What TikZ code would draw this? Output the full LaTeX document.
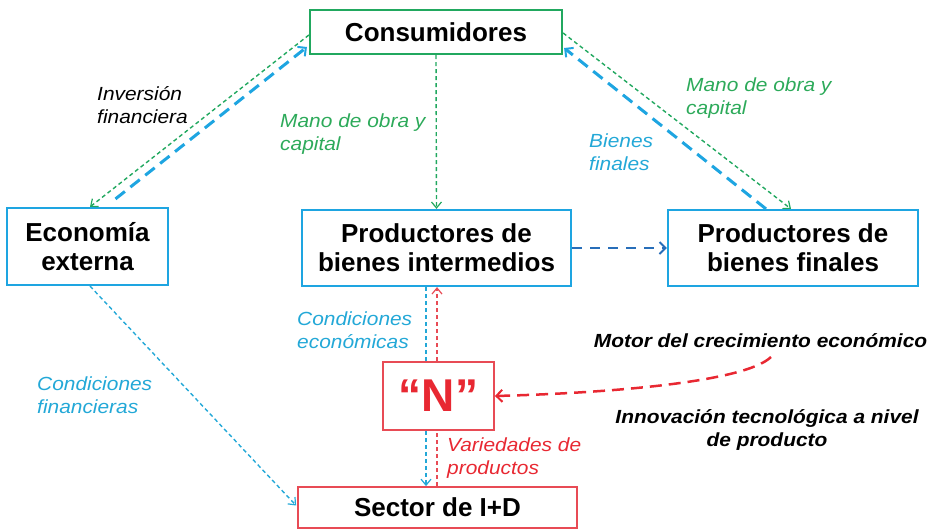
\documentclass[tikz,border=0pt]{standalone}
\usepackage{fontspec}
\setmainfont{Liberation Sans}
\newfontfamily\labfont[FakeStretch=1.1]{Liberation Sans}
\usetikzlibrary{arrows.meta,calc}
\definecolor{cgreen}{RGB}{33,168,95}
\definecolor{cblue}{RGB}{30,165,225}
\definecolor{dblue}{RGB}{40,110,185}
\definecolor{cred}{RGB}{232,40,50}
\definecolor{bred}{RGB}{232,75,85}
\definecolor{tgreen}{RGB}{45,170,90}
\definecolor{tblue}{RGB}{35,168,215}
\tikzset{
  box/.style={draw, line width=2.2pt, fill=white, inner sep=0pt, align=center,
    font=\fontsize{26}{29}\selectfont\bfseries},
  lab/.style={inner sep=0pt, anchor=west, align=left,
    font=\labfont\fontsize{19}{23}\selectfont\itshape},
  thinarrow/.style={line width=1.4pt, dash pattern=on 4pt off 3pt,
    -{Straight Barb[length=6pt,width=10pt,line width=1.2pt]}},
  thinline/.style={line width=1.4pt, dash pattern=on 4pt off 3pt},
  thickarrow/.style={line width=3pt, dash pattern=on 12pt off 7pt,
    -{Straight Barb[length=6pt,width=12pt,line width=2pt]}},
}
\begin{document}
\begin{tikzpicture}[x=1pt,y=-1pt]
\useasboundingbox (0,0) rectangle (936,530);
% nodes
\node[box, draw=cgreen, minimum width=252pt, minimum height=44pt] (cons) at (436,32) {Consumidores};
\node[box, draw=cblue, minimum width=161pt, minimum height=77pt] (eco) at (87.5,246.5) {Economía\\externa};
\node[box, draw=cblue, minimum width=269pt, minimum height=76pt] (inter) at (436.5,248) {Productores de\\bienes intermedios};
\node[box, draw=cblue, minimum width=250pt, minimum height=76pt] (fin) at (793,248) {Productores de\\bienes finales};
\node[box, draw=bred, line width=1.8pt, minimum width=111pt, minimum height=68pt, text=cred,
  font=\fontsize{46}{50}\selectfont\bfseries] (N) at (438.5,396) {“N”};
\node[box, draw=bred, line width=1.8pt, minimum width=279pt, minimum height=41pt] (sec) at (437.5,507.5) {Sector de I+D};
% connectors
\draw[thinarrow, draw=cgreen] ($(cons.west)+(0,3)$) -- ($(eco.north)+(2.5,0)$);
\draw[thickarrow, draw=cblue] ($(eco.north)+(28,-8)$) -- ($(cons.west)+(-2,15)$);
\draw[thinarrow, draw=cgreen] (cons.south) -- (inter.north);
\draw[thinarrow, draw=cgreen] ($(cons.east)+(0,1)$) -- ($(fin.north)+(-2,0)$);
\draw[thickarrow, draw=cblue] ($(fin.north)+(-27,0)$) -- ($(cons.east)+(1,16)$);
\draw[line width=2.5pt, draw=dblue, dash pattern=on 10pt off 8pt,
  -{Straight Barb[length=6pt,width=12pt,line width=2pt]}] (inter.east) -- (fin.west);
\draw[thinarrow, draw=tblue] ($(eco.south)+(2.5,0)$) -- ($(sec.west)+(-1,-2)$);
\draw[thinline, draw=tblue] ($(inter.south)+(-10.5,0)$) -- ($(N.north)+(-12.5,0)$);
\draw[thinarrow, draw=tblue] ($(N.south)+(-12.5,0)$) -- ($(sec.north)+(-11.5,0)$);
\draw[thinline, draw=bred] ($(sec.north)+(-0.5,0)$) -- ($(N.south)+(-1.5,0)$);
\draw[thinarrow, draw=bred] ($(N.north)+(-1.5,0)$) -- ($(inter.south)+(0.5,0)$);
\coordinate (motor) at (771,357);
\draw[line width=2.5pt, draw=cred, dash pattern=on 12pt off 7pt,
  -{Straight Barb[length=6pt,width=12pt,line width=2pt]}]
  (motor) .. controls (745,382) and (610,393) .. (N.east);
% labels
\node[lab] (l1) at (97,105) {Inversión\\financiera};
\node[lab, text=tgreen] (l2) at (280,134) {Mano de obra y\\capital};
\node[lab, text=tgreen] (l3) at (686,98.5) {Mano de obra y\\capital};
\node[lab, text=tblue] (l4) at (589,152) {Bienes\\finales};
\node[lab, text=tblue] (l5) at (297,330) {Condiciones\\económicas};
\node[lab, text=tblue] (l6) at (37,395.5) {Condiciones\\financieras};
\node[lab, text=cred] (l7) at (447,458.5) {Variedades de\\productos};
\node[lab, anchor=center, font=\labfont\fontsize{19}{23}\selectfont\bfseries\itshape] (l8) at (760.5,341) {Motor del crecimiento económico};
\node[lab, anchor=center, align=center, font=\labfont\fontsize{19}{23}\selectfont\bfseries\itshape] (l9) at (767,430) {Innovación tecnológica a nivel\\de producto};
\end{tikzpicture}
\end{document}
